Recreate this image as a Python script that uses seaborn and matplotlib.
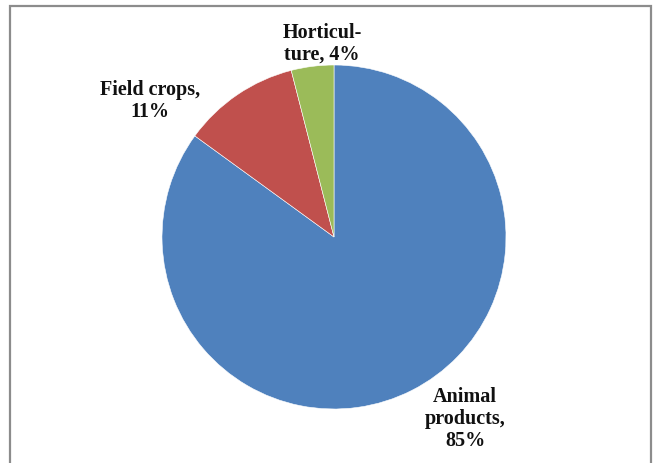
import matplotlib
matplotlib.use("Agg")
import matplotlib.pyplot as plt
import seaborn as sns
from matplotlib.patches import Rectangle

categories = ["Animal products", "Field crops", "Horticulture"]
shares = [85, 11, 4]
label_texts = ["Animal\nproducts,\n85%", "Field crops,\n11%", "Horticul-\nture, 4%"]
colors = ["#4F81BD", "#C0504D", "#9BBB59"]

sns.set_theme(style="white")
plt.rcParams['font.family'] = ['Liberation Serif', 'DejaVu Serif']

fig = plt.figure(figsize=(6.54, 4.64), dpi=100)
ax = fig.add_axes([0, 0, 1, 1])

ax.pie(shares, colors=sns.color_palette(colors), startangle=90, counterclock=False,
       center=(334, 226), radius=172, frame=True,
       wedgeprops=dict(linewidth=0.4, edgecolor='white'))
ax.set_xlim(0, 654)
ax.set_ylim(0, 464)
ax.set_aspect('equal')
ax.axis('off')

label_pos = [(465, 45), (150, 363), (322, 420)]
for txt, (x, y) in zip(label_texts, label_pos):
    ax.text(x, y, txt, ha='center', va='center', fontsize=14.5, fontweight='bold',
            color='#111111', linespacing=1.12)

ax.add_patch(Rectangle((10, -10), 641, 467, fill=False, edgecolor='#8c8c8c', linewidth=1.6,
                       clip_on=False))

fig.savefig("out.png", dpi=100)
